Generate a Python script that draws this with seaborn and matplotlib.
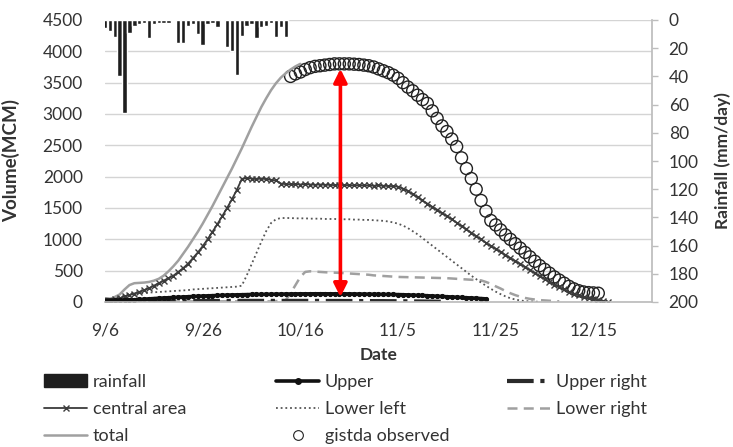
import matplotlib
matplotlib.use("Agg")
import matplotlib.pyplot as plt
import seaborn as sns
from matplotlib.lines import Line2D
from matplotlib.patches import Patch

# day 0 = 9/6, one value per day
tick_days = [0, 20, 40, 60, 80, 100]
tick_labels = ["9/6", "9/26", "10/16", "11/5", "11/25", "12/15"]

rainfall = [6, 8, 12, 40, 66, 9, 4, 3, 2, 13,
            3, 2, 2, 2, 1, 16, 16, 4, 3, 10,
            18, 3, 2, 5, 1, 19, 22, 39, 11, 4,
            3, 13, 5, 4, 2, 12, 5, 12]

total = [20, 40, 80, 120, 200, 270, 300, 305, 310, 320,
         340, 370, 420, 490, 570, 660, 770, 880, 1000, 1120,
         1250, 1390, 1530, 1680, 1830, 1980, 2130, 2290, 2450, 2620,
         2790, 2950, 3110, 3250, 3380, 3490, 3580, 3650, 3710, 3760,
         3800]

central_area = [10, 20, 40, 60, 90, 110, 135, 160, 190, 220,
                260, 300, 340, 380, 420, 480, 540, 610, 700, 790,
                890, 1000, 1120, 1240, 1370, 1500, 1640, 1790, 1960, 1980,
                1970, 1960, 1970, 1960, 1950, 1940, 1890, 1880, 1880, 1880,
                1875, 1880, 1875, 1870, 1875, 1870, 1870, 1865, 1870, 1865,
                1865, 1860, 1865, 1860, 1860, 1855, 1860, 1855, 1850, 1850,
                1840, 1810, 1770, 1720, 1670, 1620, 1570, 1520, 1470, 1420,
                1370, 1320, 1265, 1210, 1160, 1105, 1050, 1000, 945, 895,
                850, 800, 750, 700, 655, 610, 560, 510, 460, 410,
                365, 320, 275, 235, 200, 165, 135, 105, 80, 60,
                40, 25, 12, 5]

lower_left = [0, 20, 50, 80, 100, 120, 130, 140, 145, 150,
              155, 160, 165, 170, 175, 180, 185, 190, 200, 205,
              210, 215, 220, 225, 230, 235, 240, 245, 260, 420,
              600, 780, 960, 1130, 1260, 1320, 1340, 1340, 1340, 1335,
              1335, 1335, 1330, 1330, 1330, 1325, 1325, 1325, 1320, 1320,
              1320, 1315, 1315, 1310, 1310, 1305, 1300, 1295, 1285, 1270,
              1250, 1220, 1180, 1130, 1080, 1020, 960, 900, 840, 780,
              720, 660, 600, 540, 480, 420, 365, 310, 260, 210,
              165, 125, 90, 60, 40, 25, 15, 10, 5, 5]

lower_right = [0, 0, 5, 5, 10, 10, 10, 10, 10, 10,
               10, 10, 10, 10, 10, 10, 10, 10, 10, 10,
               10, 10, 10, 10, 10, 10, 10, 10, 10, 10,
               10, 10, 10, 10, 10, 15, 20, 30, 140, 270,
               400, 480, 490, 485, 480, 475, 470, 468, 465, 460,
               455, 450, 445, 440, 435, 425, 420, 415, 410, 405,
               400, 398, 396, 394, 392, 390, 388, 386, 384, 382,
               380, 375, 370, 365, 360, 355, 350, 345, 320, 290,
               250, 215, 175, 140, 110, 85, 65, 50, 40, 30,
               25, 20, 15, 10]

upper = [20, 22, 25, 28, 30, 32, 35, 40, 45, 50,
         55, 60, 64, 68, 72, 76, 80, 84, 88, 92,
         95, 98, 101, 104, 107, 110, 112, 114, 116, 118,
         120, 121, 122, 123, 124, 125, 126, 127, 128, 129,
         130, 130, 130, 131, 131, 131, 130, 130, 130, 130,
         129, 128, 127, 126, 125, 124, 123, 122, 121, 120,
         118, 116, 113, 110, 107, 104, 100, 96, 92, 88,
         84, 80, 76, 72, 68, 64, 60, 55, 50]

upper_right = [40, 35, 30, 25, 20, 18, 15, 12, 10, 10,
               10, 10, 12, 12, 12, 14, 14, 14, 15, 15,
               15, 16, 16, 16, 17, 17, 17, 18, 18, 18,
               18, 18, 18, 18, 18, 18, 18, 18, 18, 18,
               18, 18, 18, 18, 18, 17, 17, 17, 17, 16,
               16, 16, 15, 15, 15, 14, 14, 14, 13, 13,
               12, 12, 11, 10, 9, 8, 7, 6, 5, 4]

observed_start = 38
observed = [3600, 3640, 3670, 3710, 3740, 3760, 3770, 3780, 3790, 3800,
            3800, 3800, 3800, 3795, 3790, 3780, 3770, 3750, 3720, 3690,
            3660, 3620, 3570, 3500, 3430, 3370, 3300, 3230, 3170, 3050,
            2930, 2810, 2720, 2600, 2480, 2300, 2130, 1970, 1800, 1620,
            1450, 1300, 1230, 1150, 1070, 1000, 930, 860, 790, 720,
            650, 580, 520, 460, 400, 350, 300, 250, 210, 180,
            160, 150, 145, 140]

sns.set_theme(style="white")
plt.rcParams["font.family"] = ["Lato", "DejaVu Sans"]
txt = "#333333"

fig = plt.figure(figsize=(7.33, 4.47), dpi=100)
ax = fig.add_axes([105 / 733, 1 - 302 / 447, 547 / 733, 282 / 447])
ax2 = ax.twinx()

# rainfall hangs down from the top on the inverted right axis
ax2.bar(range(len(rainfall)), rainfall, width=0.9, color="#1e1e1e", zorder=3)
ax2.set_ylim(200, 0)
ax2.set_yticks(range(0, 201, 20))

def series(vals, start=0):
    return list(range(start, start + len(vals))), vals

x, y = series(lower_right)
sns.lineplot(x=x, y=y, ax=ax, color="#a0a0a0", lw=1.8, ls=(0, (4, 2.5)), legend=False)
x, y = series(lower_left)
sns.lineplot(x=x, y=y, ax=ax, color="#555555", lw=1.3, ls=(0, (1, 1.6)), legend=False)
x, y = series(total)
sns.lineplot(x=x, y=y, ax=ax, color="#a0a0a0", lw=1.8, legend=False)
x, y = series(central_area)
sns.lineplot(x=x, y=y, ax=ax, color="#3c3c3c", lw=1.3, marker="x", markersize=5,
             mew=1.0, mec="#3c3c3c", legend=False)
x, y = series(upper_right)
sns.lineplot(x=x, y=y, ax=ax, color="#2a2a2a", lw=3, ls="-.", legend=False)
x, y = series(upper)
sns.lineplot(x=x, y=y, ax=ax, color="#111111", lw=2.6, marker="o", markersize=3,
             mec="#111111", legend=False)
x, y = series(observed, observed_start)
sns.scatterplot(x=x, y=y, ax=ax, marker="o", s=75, color="#222222",
                facecolor="none", edgecolor="#222222", linewidth=1.0, legend=False)

# red double arrow between upper and observed peak
ax.annotate("", xy=(48.2, 3720), xytext=(48.2, 80),
            arrowprops=dict(arrowstyle="<|-|>", color="red", lw=2.6,
                            mutation_scale=20, shrinkA=0, shrinkB=0), zorder=6)

ax.set_xlim(0, 112)
ax.set_ylim(0, 4500)
ax.set_yticks(range(0, 4501, 500))
ax.set_xticks(tick_days)
ax.set_xticklabels(tick_labels)
ax.yaxis.grid(True, color="#d4d4d4", lw=1)
ax.xaxis.grid(False)
ax.set_axisbelow(True)

for a in (ax, ax2):
    for side in ("top", "left", "bottom", "right"):
        a.spines[side].set_visible(False)
ax.spines["bottom"].set_visible(True)
ax.spines["bottom"].set_color("#bdbdbd")
ax2.spines["right"].set_visible(True)
ax2.spines["right"].set_color("#bdbdbd")

ax.tick_params(axis="y", length=0, pad=16, labelsize=12.5, labelcolor=txt)
ax.tick_params(axis="x", length=0, pad=15, labelsize=12.5, labelcolor=txt)
ax2.tick_params(axis="y", length=4, width=1, color="#bdbdbd", pad=8,
                labelsize=12.5, labelcolor=txt)

ax.set_xlabel("Date", fontsize=12.5, fontweight="bold", color=txt)
ax.xaxis.set_label_coords(0.5, -0.16)
ax.set_ylabel("Volume(MCM)", fontsize=13.5, fontweight="bold", color=txt)
ax.yaxis.set_label_coords(-0.155, 0.5)
ax2.set_ylabel("Rainfall (mm/day)", fontsize=12.5, fontweight="bold", color=txt)
ax2.yaxis.set_label_coords(1.115, 0.5)

# legend in three columns placed separately
col1 = [Patch(facecolor="#1e1e1e", edgecolor="#1e1e1e", label="rainfall"),
        Line2D([], [], color="#3c3c3c", lw=1.3, marker="x", markersize=5, label="central area"),
        Line2D([], [], color="#a0a0a0", lw=1.8, label="total")]
col2 = [Line2D([], [], color="#111111", lw=2.6, marker="o", markersize=4, label="Upper"),
        Line2D([], [], color="#555555", lw=1.3, ls=(0, (1, 1.6)), label="Lower left"),
        Line2D([], [], color="#222222", lw=0, marker="o", markersize=7, mfc="none",
               mew=0.8, label="gistda observed")]
col3 = [Line2D([], [], color="#2a2a2a", lw=3, ls="-.", label="Upper right"),
        Line2D([], [], color="#a0a0a0", lw=1.8, ls=(0, (4, 2.5)), label="Lower right")]
for handles, xpos in ((col1, 44), (col2, 276), (col3, 507)):
    fig.legend(handles=handles, loc="upper left", bbox_to_anchor=(xpos / 733, 1 - 374 / 447),
               frameon=False, fontsize=13, handlelength=2.4, handletextpad=0.3,
               labelspacing=0.62, borderpad=0, borderaxespad=0, labelcolor=txt)

fig.savefig("out.png", dpi=100)
